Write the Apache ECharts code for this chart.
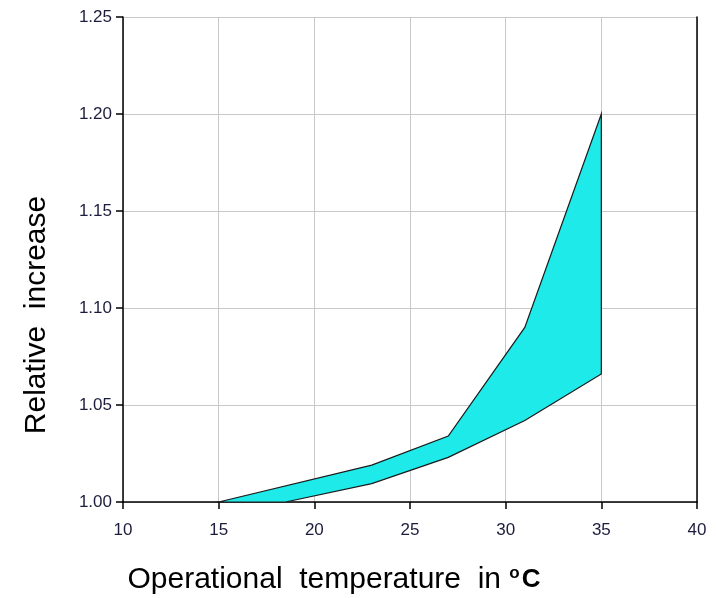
<!DOCTYPE html>
<html>
<head>
<meta charset="utf-8">
<script src="https://cdn.jsdelivr.net/npm/echarts@6/dist/echarts.min.js"></script>
<style>html,body{margin:0;padding:0;background:#fff}#chart{width:716px;height:598px}</style>
</head>
<body>
<div id="chart"></div>
<script>
// Upper boundary of the band
const upperX = [15, 23, 27, 31, 35];
const upperY = [1.000, 1.019, 1.034, 1.090, 1.200];
// Lower boundary of the band
const lowerX = [15, 18.5, 23, 27, 31, 35];
const lowerY = [1.000, 1.000, 1.0095, 1.023, 1.042, 1.066];
// Axis ticks
const xTicks = [10, 15, 20, 25, 30, 35, 40];
const yTickLabels = ['1.00', '1.05', '1.10', '1.15', '1.20', '1.25'];
const xTitle = 'Operational  temperature  in ';
const yTitle = 'Relative  increase';

const chart = echarts.init(document.getElementById('chart'), null, {renderer: 'canvas'});
const labelFont = {fontFamily: 'Liberation Sans, Arial, sans-serif', fontSize: 17, color: '#1c1c3c'};

const option = {
  animation: false,
  backgroundColor: '#ffffff',
  grid: {left: 123, right: 19, top: 17, bottom: 96, containLabel: false, outerBoundsMode: 'none'},
  xAxis: {
    type: 'value', min: xTicks[0], max: xTicks[xTicks.length - 1], interval: 5,
    axisLine: {show: true, onZero: false, lineStyle: {color: '#000', width: 1.5}},
    axisTick: {show: true, inside: false, length: 7, lineStyle: {color: '#000', width: 1.5}},
    axisLabel: Object.assign({margin: 20, formatter: v => String(v)}, labelFont),
    splitLine: {show: true, lineStyle: {color: '#c8c8c8', width: 1}}
  },
  yAxis: [{
    type: 'value', min: 1.0, max: 1.25, interval: 0.05,
    axisLine: {show: true, onZero: false, lineStyle: {color: '#000', width: 1.5}},
    axisTick: {show: true, inside: false, length: 7, lineStyle: {color: '#000', width: 1.5}},
    axisLabel: Object.assign({margin: 11, formatter: (v) => {
      const i = Math.round((v - 1.0) / 0.05);
      return yTickLabels[i] !== undefined ? yTickLabels[i] : '';
    }}, labelFont),
    splitLine: {show: true, lineStyle: {color: '#c8c8c8', width: 1}}
  }, {
    type: 'value', min: 1.0, max: 1.25, interval: 0.05, position: 'right',
    axisLine: {show: true, onZero: false, lineStyle: {color: '#000', width: 1.5}},
    axisTick: {show: false}, axisLabel: {show: false}, splitLine: {show: false}
  }],
  series: [{
    type: 'custom',
    coordinateSystem: 'cartesian2d',
    xAxisIndex: 0, yAxisIndex: 0,
    data: [[upperX[0], upperY[0]]],
    encode: {x: 0, y: 1},
    renderItem: function (params, api) {
      const pts = [];
      for (let i = 0; i < upperX.length; i++) pts.push(api.coord([upperX[i], upperY[i]]));
      for (let i = lowerX.length - 1; i >= 0; i--) pts.push(api.coord([lowerX[i], lowerY[i]]));
      return {
        type: 'polygon',
        shape: {points: pts},
        style: {fill: '#1eeaea', stroke: '#1a1a1a', lineWidth: 1.2}
      };
    }
  }],
  graphic: [{
    type: 'text',
    x: 334, y: 580,
    style: {
      text: xTitle + '{s|o}{c|C}',
      font: '30px "Liberation Sans", Arial, sans-serif',
      fill: '#000',
      align: 'center', verticalAlign: 'middle',
      rich: {
        s: {fontSize: 17, fontWeight: 'bold', fontFamily: 'Liberation Sans', verticalAlign: 'top', padding: [0, 2, 10, 0], fill: '#000'},
        c: {fontSize: 26, fontWeight: 'bold', fontFamily: 'Liberation Sans', fill: '#000'}
      }
    }
  }, {
    type: 'text',
    x: 37, y: 315,
    rotation: Math.PI / 2,
    style: {
      text: yTitle,
      font: '30px "Liberation Sans", Arial, sans-serif',
      fill: '#000',
      align: 'center', verticalAlign: 'middle'
    }
  }]
};
chart.setOption(option);
</script>
</body>
</html>
